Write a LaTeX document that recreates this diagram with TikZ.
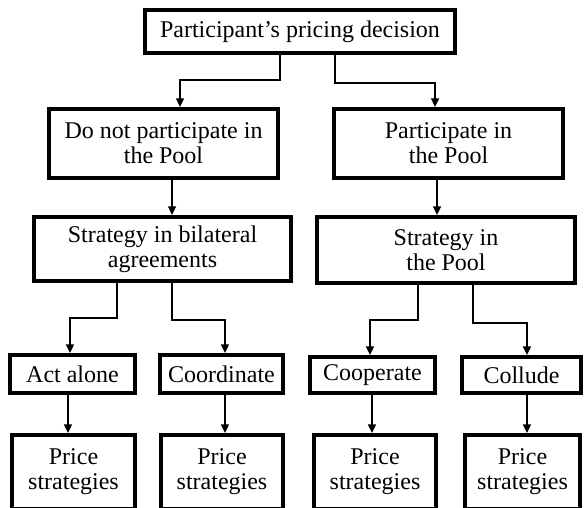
\documentclass[tikz,border=0pt]{standalone}
\usepackage{fontspec}
\setmainfont{Liberation Serif}
\usetikzlibrary{arrows.meta, positioning}

\tikzset{
  box/.style={draw, line width=3pt, align=center, inner sep=0pt, font=\fontsize{18}{18.75}\selectfont},
  link/.style={line width=1.1pt, -{Triangle[width=6pt,length=6.5pt]}}
}

\begin{document}
\begin{tikzpicture}[x=0.75pt, y=-0.75pt]
  \useasboundingbox (0,0) rectangle (584,507);

  % decision and the two options
  \node[box, minimum width=232.5pt, minimum height=32.25pt] (decision) at (300,31.5) {Participant's pricing decision};
  \node[box, minimum width=171.75pt, minimum height=51.75pt] (stay) at (163.5,143.5) {Do not participate in\\the Pool};
  \node[box, minimum width=171.75pt, minimum height=51.75pt] (join) at (448.5,143.5) {Participate in\\the Pool};

  % strategies
  \node[box, minimum width=192.75pt, minimum height=48pt] (bilateral) at (162.5,249) {Strategy in bilateral\\agreements};
  \node[box, minimum width=193.5pt, minimum height=49.5pt] (pool) at (446,250) {Strategy in\\the Pool};

  \node[box, minimum width=93.75pt, minimum height=28.5pt] (alone) at (72.5,374) {Act alone};
  \node[box, minimum width=92.25pt, minimum height=28.5pt] (coord) at (221.5,374) {Coordinate};
  \node[box, minimum width=93.75pt, minimum height=27pt] (coop) at (372.5,375) {Cooperate};
  \node[box, minimum width=89.25pt, minimum height=27pt] (collude) at (521.5,375) {Collude};

  % price strategies (bottom edge runs off the page)
  \node[box, minimum width=92.25pt, minimum height=55.5pt] (priceA) at (73.5,472) {Price\\strategies};
  \node[box, minimum width=91.5pt, minimum height=55.5pt] (priceB) at (222,472) {Price\\strategies};
  \node[box, minimum width=91.5pt, minimum height=55.5pt] (priceC) at (375,472) {Price\\strategies};
  \node[box, minimum width=86.25pt, minimum height=55.5pt] (priceD) at (522.5,472) {Price\\strategies};

  % connectors
  \draw[link] ([xshift=-15pt]decision.south) -- ++(0,25) -| ([xshift=12.4pt]stay.north);
  \draw[link] ([xshift=26.25pt]decision.south) -- ++(0,28) -| ([xshift=-10.1pt]join.north);
  \draw[link] ([xshift=6.4pt]stay.south) -- ([xshift=6.4pt]stay.south |- bilateral.north);
  \draw[link] ([xshift=-8.6pt]join.south) -- ([xshift=-8.6pt]join.south |- pool.north);

  \draw[link] ([xshift=-34.1pt]bilateral.south) -- ++(0,35) -| ([xshift=-1.9pt]alone.north);
  \draw[link] ([xshift=7.1pt]bilateral.south) -- ++(0,37) -| ([xshift=2.6pt]coord.north);
  \draw[link] ([xshift=-21pt]pool.south) -- ++(0,35) -| ([xshift=-1.9pt]coop.north);
  \draw[link] ([xshift=20.25pt]pool.south) -- ++(0,38) -| ([xshift=4.1pt]collude.north);

  \draw[link] ([xshift=-3.4pt]alone.south) -- ([xshift=-3.4pt]alone.south |- priceA.north);
  \draw[link] ([xshift=2.6pt]coord.south) -- ([xshift=2.6pt]coord.south |- priceB.north);
  \draw[link] ([xshift=-0.4pt]coop.south) -- ([xshift=-0.4pt]coop.south |- priceC.north);
  \draw[link] ([xshift=4.1pt]collude.south) -- ([xshift=4.1pt]collude.south |- priceD.north);
\end{tikzpicture}
\end{document}
